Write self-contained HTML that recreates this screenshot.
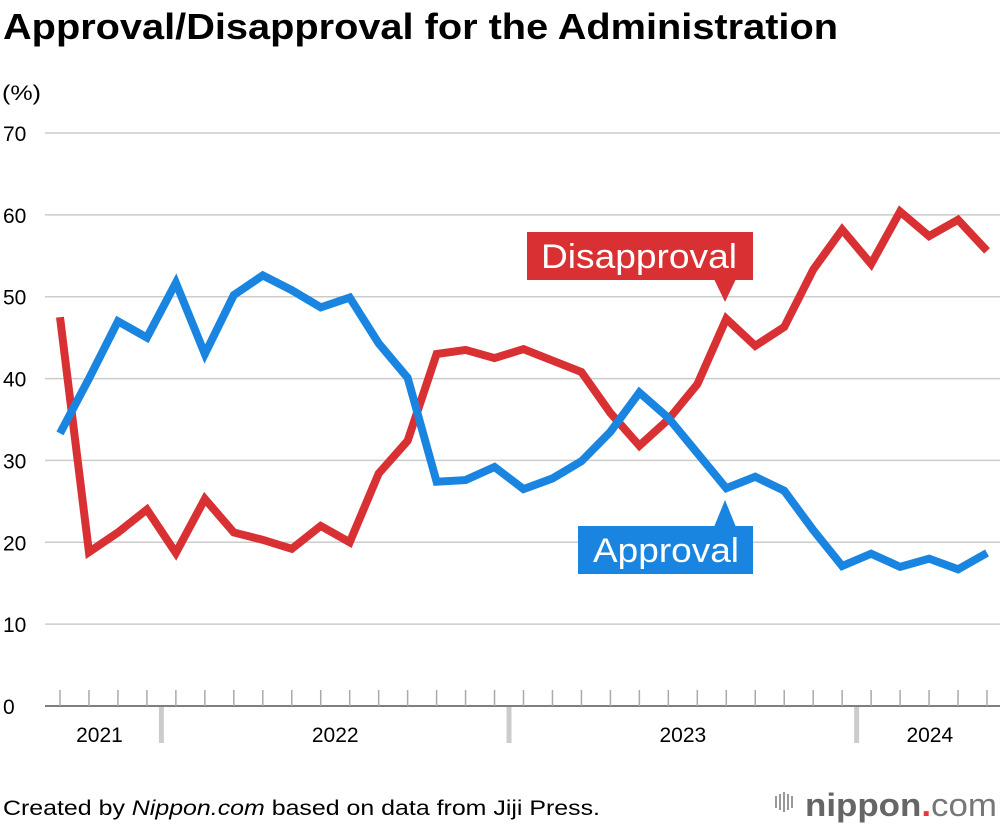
<!DOCTYPE html>
<html><head><meta charset="utf-8"><style>
body{margin:0;background:#fff;font-family:"Liberation Sans",sans-serif;}
#wrap{position:relative;width:1000px;height:828px;overflow:hidden;}
</style></head><body>
<div id="wrap">
<svg id="chart" width="1000" height="828">
<text x="3" y="39" font-size="36" font-weight="bold" fill="#000" textLength="835" lengthAdjust="spacingAndGlyphs">Approval/Disapproval for the Administration</text>
<text x="2" y="100" font-size="21" fill="#000" textLength="39" lengthAdjust="spacingAndGlyphs">(%)</text>
<g id="grid"></g><g id="xaxis"></g><g id="lines"></g>
<g>
<rect x="527" y="232" width="226" height="48" fill="#d93034"/>
<polygon points="714,279 736,279 725,302" fill="#d93034"/>
<text x="541" y="268" font-size="34" fill="#fff" textLength="196" lengthAdjust="spacingAndGlyphs">Disapproval</text></g>
<g>
<rect x="578" y="526" width="175" height="48" fill="#1a85e0"/>
<polygon points="714,527 736,527 725,500" fill="#1a85e0"/>
<text x="593" y="562" font-size="34" fill="#fff" textLength="146" lengthAdjust="spacingAndGlyphs">Approval</text></g>
<text x="3" y="815" font-size="21" fill="#000" textLength="597" lengthAdjust="spacingAndGlyphs">Created by <tspan font-style="italic">Nippon.com</tspan> based on data from Jiji Press.</text>
<g>
<g fill="#999"><rect x="775" y="796" width="2" height="12"/><rect x="779" y="794" width="2" height="16"/><rect x="783" y="792" width="2" height="20"/><rect x="787" y="794" width="2" height="16"/><rect x="791" y="796" width="2" height="12"/></g>
<text x="805" y="816" font-size="32" font-weight="bold" fill="#666" textLength="192" lengthAdjust="spacingAndGlyphs">nippon<tspan fill="#e33">.</tspan><tspan font-weight="normal" fill="#777">com</tspan></text></g>
</svg>
</div>
<script>
const approval=[33.3,40,47,45,51.7,43,50.2,52.6,50.8,48.7,49.9,44.3,40.1,27.4,27.6,29.2,26.5,27.8,29.9,33.5,38.3,35.2,30.9,26.6,28,26.3,21.5,17.1,18.6,17,18,16.7,18.7];
const disapproval=[47.5,18.8,21.2,24,18.7,25.3,21.2,20.3,19.2,22,20,28.4,32.4,43,43.5,42.5,43.6,42.2,40.8,35.8,31.8,35,39.3,47.3,44,46.3,53.3,58.2,54,60.4,57.4,59.4,55.6];
const yTicks=[0,10,20,30,40,50,60,70];
const years=["2021","2022","2023","2024"];
const yearPos=[[-0.5,3.5],[3.5,15.5],[15.5,27.5],[27.5,32.5]];
const NS="http://www.w3.org/2000/svg";
const x0=60,x1=987,n=approval.length;
function xs(i){return x0+(x1-x0)*i/(n-1);}
function ys(v){return 706-v*(706-133)/70;}
function mk(t,a,p){const e=document.createElementNS(NS,t);for(const k in a)e.setAttribute(k,a[k]);p.appendChild(e);return e;}
const grid=document.getElementById('grid');
yTicks.forEach(v=>{
 const l=mk('line',{x1:45,x2:1000,y1:ys(v),y2:ys(v),stroke:v==0?'#555':'#ccc','stroke-width':1.5},grid);
 
 
 const t=mk('text',{x:3,y:ys(v)+8,'font-size':21,fill:'#000'},grid);t.textContent=v;
 
 
});
const xa=document.getElementById('xaxis');
for(let i=0;i<n;i++){const l=mk('line',{x1:xs(i),x2:xs(i),y1:690,y2:706,stroke:'#aaa','stroke-width':1.5},xa);
 
 }
years.forEach((y,k)=>{
 const [a,b]=yearPos[k];
 const t=mk('text',{x:(xs(a)+xs(Math.min(b,n-1)))/2+(k==0?-4:k==3?8:0),y:742,'font-size':21,'text-anchor':'middle',fill:'#000'},xa);t.textContent=y;
 
 
 if(k>0){const s=mk('rect',{x:xs(a)-2.5,y:707,width:5,height:36,fill:'#ccc'},xa);
 
 }
});
const lines=document.getElementById('lines');
[[disapproval,'#d93034','disapproval-line'],[approval,'#1a85e0','approval-line']].forEach(([d,c,nm])=>{
 const p=mk('polyline',{points:d.map((v,i)=>xs(i)+','+ys(v)).join(' '),fill:'none',stroke:c,'stroke-width':8,'stroke-linejoin':'miter','stroke-miterlimit':3},lines);
 
 
});
</script>
</body></html>
